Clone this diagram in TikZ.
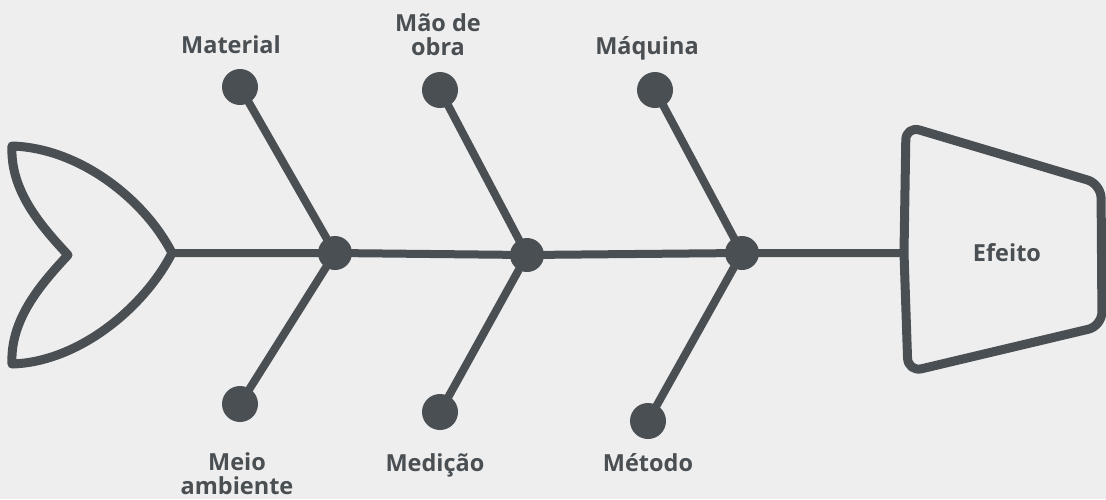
\documentclass[tikz,border=0pt]{standalone}
\usepackage{fontspec}
\setmainfont{Open Sans}
\definecolor{bgc}{HTML}{EEEEEE}
\definecolor{ink}{HTML}{4A4F53}
\tikzset{
  dot/.style={circle,fill=ink,inner sep=0pt,minimum size=#1},
  bone/.style={draw=ink,line width=8pt},
  outline/.style={draw=ink,line width=9pt,line join=round,line cap=round},
  lbl/.style={text=ink,font=\fontsize{23.5}{24}\selectfont\bfseries,align=center,inner sep=0pt}
}
\begin{document}
\begin{tikzpicture}[x=1pt,y=-1pt]
\fill[bgc] (0,0) rectangle (1106,499);
\useasboundingbox (0,0) rectangle (1106,499);
% tail
\coordinate (tip) at (172,253);
\draw[outline] (12,146) .. controls (80,148) and (145,200) .. (tip)
  .. controls (145,306) and (80,362) .. (12,364)
  .. controls (10,320) and (40,285) .. (68,255)
  .. controls (40,225) and (10,190) .. (12,146) -- cycle;
% head
\draw[outline,rounded corners=14pt] (904,253) -- (906,126) -- (1101,184) -- (1102,326) -- (908,372) -- (904,253);
\coordinate (hl) at (903,253);
\node[lbl] (efeito) at (1007,253) {Efeito};
% junctions
\node[dot=34pt] (j1) at (335,253) {};
\node[dot=34pt] (j2) at (527,255) {};
\node[dot=34pt] (j3) at (742,253) {};
% ends
\node[dot=36pt] (t1) at (240,87) {};
\node[dot=36pt] (t2) at (440,90) {};
\node[dot=36pt] (t3) at (655,90) {};
\node[dot=36pt] (b1) at (240,404) {};
\node[dot=36pt] (b2) at (440,412) {};
\node[dot=36pt] (b3) at (648,421) {};
% spine
\draw[bone] (tip) -- (j1.center) -- (j2.center) -- (j3.center) -- (hl);
\draw[bone] (t1.center) -- (j1.center) -- (b1.center);
\draw[bone] (t2.center) -- (j2.center) -- (b2.center);
\draw[bone] (t3.center) -- (j3.center) -- (b3.center);
% labels
\node[lbl,anchor=base] (l1) at (231,53) {Material};
\node[lbl] (l2) at (438,35) {Mão de\\obra};
\node[lbl,anchor=base] (l3) at (647,54) {Máquina};
\node[lbl] (l4) at (237,474) {Meio\\ambiente};
\node[lbl,anchor=base] (l5) at (435,471) {Medição};
\node[lbl,anchor=base] (l6) at (648,471) {Método};
\end{tikzpicture}
\end{document}
